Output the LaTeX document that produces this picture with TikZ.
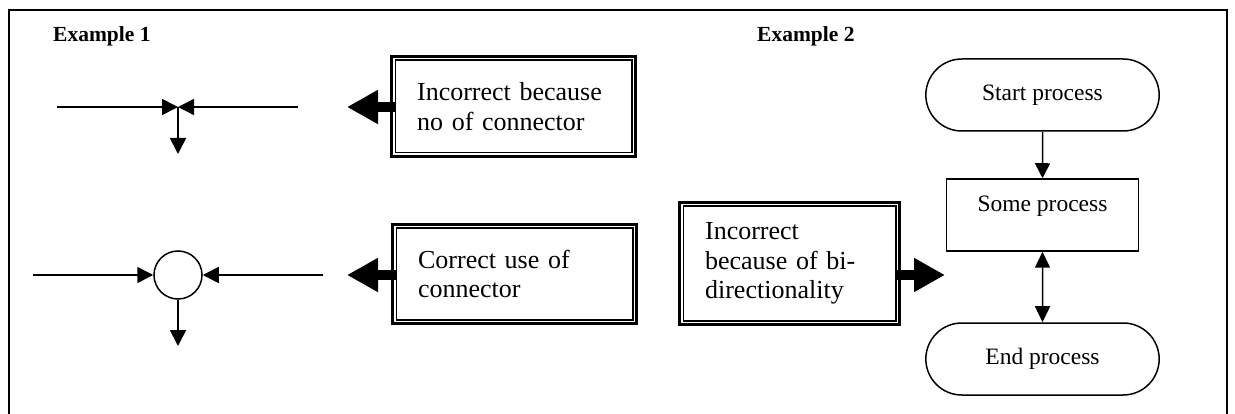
\documentclass[tikz,border=0pt]{standalone}
\usepackage{fontspec}
\setmainfont{Liberation Serif}
\usetikzlibrary{arrows.meta,shapes.misc,calc}

\tikzset{
  heading/.style={anchor=base west, inner sep=0pt, font=\bfseries\fontsize{21.5}{25}\selectfont},
  dblbox/.style={draw, line width=1.2pt, outer sep=0pt, inner xsep=22pt, inner ysep=0pt,
    align=left, font=\fontsize{26}{29.5}\selectfont},
  termbox/.style={rounded rectangle, draw, line width=1.5pt, minimum width=240pt,
    minimum height=72pt, font=\fontsize{23.5}{28}\selectfont},
  procbox/.style={draw, line width=1.5pt, minimum width=192pt, inner ysep=12pt,
    text height=21pt, text depth=27pt, font=\fontsize{23.5}{28}\selectfont},
  conncircle/.style={circle, draw, line width=1.5pt, minimum size=48pt, inner sep=0pt},
  thinarrow/.style={line width=1.6pt, -{Triangle[length=16pt,width=16pt]}},
  flowarrow/.style={line width=1.5pt, -{Triangle[length=15pt,width=15pt]}},
  twowayarrow/.style={line width=1.5pt, {Triangle[length=16pt,width=15pt]}-{Triangle[length=16pt,width=15pt]}},
  fatarrow/.style={line width=10pt, -{Triangle[length=31pt,width=32pt]}}
}

\begin{document}
\begin{tikzpicture}[x=1pt, y=-1pt]
    \useasboundingbox (0,0) rectangle (1235,414);

    % --- Outer frame (bottom edge runs off the page) ---
    \draw[line width=1.5pt] (9,430) -- (9,10) -- (1227,10) -- (1227,430);

    % --- Headings ---
    \node[heading] (ex1) at (53,42) {Example 1};
    \node[heading] (ex2) at (757,42) {Example 2};

    % --- Example 1: arrows meeting without a connector ---
    \coordinate (a1) at (57,107);
    \coordinate (a2) at (298,107);
    \coordinate (j1) at (178,107);
    \coordinate (d1) at (178,154);
    \draw[thinarrow] (a1) -- (j1);
    \draw[thinarrow] (a2) -- (j1);
    \draw[thinarrow] (j1) -- (d1);

    % --- Example 1: arrows meeting at a connector ---
    \node[conncircle] (c1) at (178,275) {};
    \coordinate (b1) at (33,275);
    \coordinate (b2) at (323,275);
    \coordinate (d2) at (178,346);
    \draw[thinarrow] (b1) -- (c1);
    \draw[thinarrow] (b2) -- (c1);
    \draw[thinarrow] (c1) -- (d2);

    % --- Note boxes ---
    \node[dblbox, text width=192.8pt, minimum width=236.8pt, minimum height=92.8pt]
        (box1) at (513.5,106.5) {Incorrect because\\no of connector};
    \node[dblbox, text width=192.8pt, minimum width=236.8pt, minimum height=91.8pt]
        (box2) at (514.5,274) {Correct use of\\connector};
    \node[dblbox, text width=168.8pt, minimum width=212.8pt, minimum height=114.8pt]
        (box3) at (789.5,263.5) {Incorrect\\because of bi-\\directionality};

    % thick outer line of each double border
    \foreach \b in {box1,box2,box3}
        \draw[line width=3pt] ($(\b.north west)+(-3.6pt,3.6pt)$) rectangle ($(\b.south east)+(3.6pt,-3.6pt)$);

    % --- Fat pointers from the notes ---
    \coordinate (p1) at (347,107);
    \coordinate (p2) at (347,275);
    \coordinate (p3) at (945,275);
    \draw[fatarrow] (box1.west |- p1) -- (p1);
    \draw[fatarrow] (box2.west |- p2) -- (p2);
    \draw[fatarrow] (box3.east |- p3) -- (p3);

    % --- Example 2: flowchart ---
    \node[termbox] (startp) at (1042.5,95) {Start process};
    \node[procbox] (somep) at (1042.5,215) {Some process};
    \node[termbox] (endp) at (1042.5,359) {End process};
    \draw[flowarrow] (startp) -- (somep);
    \draw[twowayarrow] (somep) -- (endp);

\end{tikzpicture}
\end{document}
